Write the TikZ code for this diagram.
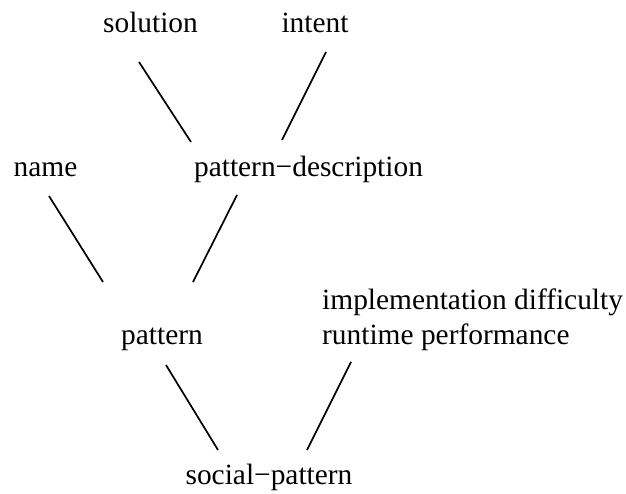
\documentclass[tikz,border=0pt]{standalone}
\usepackage{fontspec}
\setmainfont{Liberation Serif}
\begin{document}
\begin{tikzpicture}[x=1pt,y=-1pt,
  lbl/.style={inner sep=0pt,anchor=base,font=\fontsize{29.4}{35}\selectfont},
  edge/.style={line width=1.7pt}]
\useasboundingbox (0,0) rectangle (626,494);
% labels
\node[lbl] (sol) at (150.5,33) {solution};
\node[lbl] (int) at (315,33) {intent};
\node[lbl] (nam) at (45.5,177) {name};
\node[lbl] (pd) at (308.5,177) {pattern−description};
\node[lbl] (pat) at (162,344) {pattern};
\node[lbl,anchor=base west,align=left] (attr) at (322,344) {implementation difficulty\\runtime performance};
\node[lbl] (soc) at (269,484) {social−pattern};
% edge end points
\coordinate (sol-e) at (139,62);
\coordinate (pd-s) at (191,142);
\coordinate (int-e) at (326,52);
\coordinate (pd-i) at (282,140);
\coordinate (nam-e) at (49,196);
\coordinate (pat-n) at (103,282);
\coordinate (pd-e) at (237,195);
\coordinate (pat-p) at (193,282);
\coordinate (pat-e) at (166,365);
\coordinate (soc-p) at (218,450);
\coordinate (attr-e) at (351,362);
\coordinate (soc-a) at (307,450);
% edges
\draw[edge] (sol-e) -- (pd-s);
\draw[edge] (int-e) -- (pd-i);
\draw[edge] (nam-e) -- (pat-n);
\draw[edge] (pd-e) -- (pat-p);
\draw[edge] (pat-e) -- (soc-p);
\draw[edge] (attr-e) -- (soc-a);
\end{tikzpicture}
\end{document}
